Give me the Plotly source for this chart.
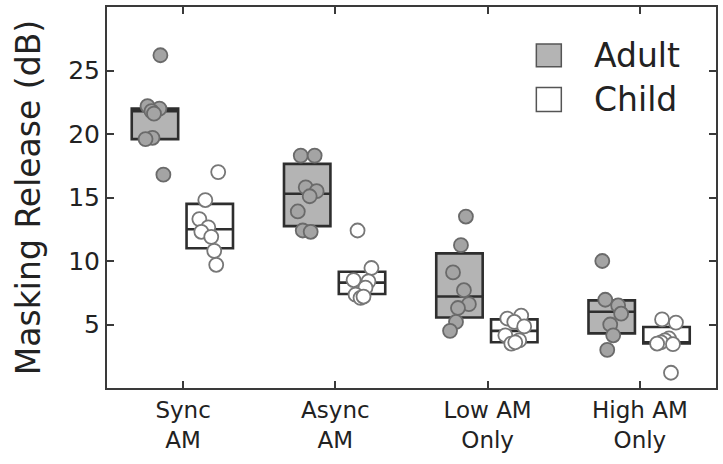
import numpy as np
import plotly.graph_objects as go

categories = ["Sync<br>AM", "Async<br>AM", "Low AM<br>Only", "High AM<br>Only"]

adult_values = [
    [26.2, 22.2, 22.0, 21.8, 21.6, 19.7, 19.6, 16.8],
    [18.3, 18.3, 15.8, 15.5, 15.1, 13.9, 12.4, 12.3],
    [13.5, 11.25, 9.1, 7.7, 6.6, 6.3, 5.2, 4.5],
    [10.0, 6.95, 6.5, 5.85, 5.0, 4.15, 3.0],
]
child_values = [
    [17.0, 14.8, 13.3, 12.65, 12.3, 11.9, 10.8, 9.7],
    [12.4, 9.45, 8.5, 8.4, 7.9, 7.35, 7.1, 7.2],
    [5.7, 5.47, 5.2, 4.85, 4.15, 3.75, 3.5, 3.6],
    [5.4, 5.15, 3.9, 3.75, 3.6, 3.5, 3.45, 1.2],
]
# horizontal jitter of each point (in pixels)
adult_jitter = [
    [5.5, -7.5, 4.5, -3.5, -1, -2.5, -9.5, 8.5],
    [-6.5, 7.5, -1.5, 9.5, 2.5, -9.5, -4.5, 3.5],
    [6.5, 1.5, -6.5, 4.5, 9.5, -1.5, -3.5, -9.5],
    [-9.5, -6.5, 6.5, 9.5, -1.5, 1.5, -4.5],
]
child_jitter = [
    [8.5, -4.5, -10.5, -1.5, -8.5, 1.5, 4.5, 6.5],
    [-4.5, 9.5, -8.5, 6.5, 3.5, -6.5, -1.5, 1.5],
    [7, -7, 0, 10, -9, 5, -3, 1],
    [-4.5, 9.5, 2.5, -1.5, -5.5, -9.5, 6.5, 4.5],
]
adult_q1 = [19.6, 12.75, 5.55, 4.3]
adult_median = [21.8, 15.3, 7.2, 6.0]
adult_q3 = [22.0, 17.65, 10.6, 6.9]
child_q1 = [11.0, 7.4, 3.6, 3.5]
child_median = [12.5, 8.3, 4.5, 3.6]
child_q3 = [14.5, 9.15, 5.4, 4.8]

FONT = "DejaVu Sans"
TXT = "#222222"
AX = "#3a3a3a"
PX_PER_UNIT = 153.5
BOX_W = 0.305
ADULT_OFF = -0.185
CHILD_OFF = 0.175

fig = go.Figure()

groups = [
    ("Adult", ADULT_OFF, adult_q1, adult_median, adult_q3, adult_values, adult_jitter,
     "#b4b4b4", "#a4a4a4", "#6a6a6a"),
    ("Child", CHILD_OFF, child_q1, child_median, child_q3, child_values, child_jitter,
     "#ffffff", "#ffffff", "#777777"),
]

for name, off, q1, med, q3, vals, jit, boxfill, ptfill, ptline in groups:
    pos = np.arange(len(categories)) + off
    fig.add_trace(go.Box(
        x=pos, q1=q1, median=med, q3=q3, lowerfence=q1, upperfence=q3,
        width=BOX_W, whiskerwidth=0, fillcolor=boxfill,
        line=dict(color="#2e2e2e", width=2.6), boxpoints=False,
        showlegend=False, hoverinfo="skip", name=name,
    ))
for name, off, q1, med, q3, vals, jit, boxfill, ptfill, ptline in groups:
    xs, ys = [], []
    for i, (vv, jj) in enumerate(zip(vals, jit)):
        for v, j in zip(vv, jj):
            xs.append(i + off + j / PX_PER_UNIT)
            ys.append(v)
    fig.add_trace(go.Scatter(
        x=xs, y=ys, mode="markers", showlegend=False, name=name,
        marker=dict(size=14, color=ptfill, line=dict(color=ptline, width=1.8)),
    ))

# legend drawn as shapes + text
leg = [("Adult", "#b4b4b4", 0.903, 0.843), ("Child", "#ffffff", 0.789, 0.726)]
for name, col, y1, y0 in leg:
    fig.add_shape(type="rect", xref="paper", yref="paper", x0=0.705, x1=0.746,
                  y0=y0, y1=y1, fillcolor=col, line=dict(color="#555555", width=1.5))
    fig.add_annotation(xref="paper", yref="paper", x=0.797, y=(y0 + y1) / 2,
                       text=name, showarrow=False, xanchor="left", yanchor="middle",
                       font=dict(family=FONT, size=33, color=TXT))

fig.update_layout(
    width=723, height=464,
    margin=dict(l=107, r=5, t=5, b=76),
    plot_bgcolor="white", paper_bgcolor="white",
    font=dict(family=FONT, color=TXT),
)
fig.update_xaxes(
    range=[-0.5, 3.5], tickvals=list(range(len(categories))), ticktext=categories,
    ticks="inside", ticklen=7, tickwidth=2, tickcolor=AX,
    showline=True, linecolor=AX, linewidth=2, mirror="ticks",
    showgrid=False, zeroline=False, tickfont=dict(family=FONT, size=23, color=TXT),
)
fig.update_yaxes(
    range=[0, 30], tickvals=[5, 10, 15, 20, 25],
    ticks="inside", ticklen=7, tickwidth=2, tickcolor=AX,
    showline=True, linecolor=AX, linewidth=2, mirror="ticks",
    showgrid=False, zeroline=False, tickfont=dict(family=FONT, size=25, color=TXT),
    title=dict(text="Masking Release (dB)", font=dict(family=FONT, size=33, color=TXT),
               standoff=18),
)

fig.write_html("out.html")
